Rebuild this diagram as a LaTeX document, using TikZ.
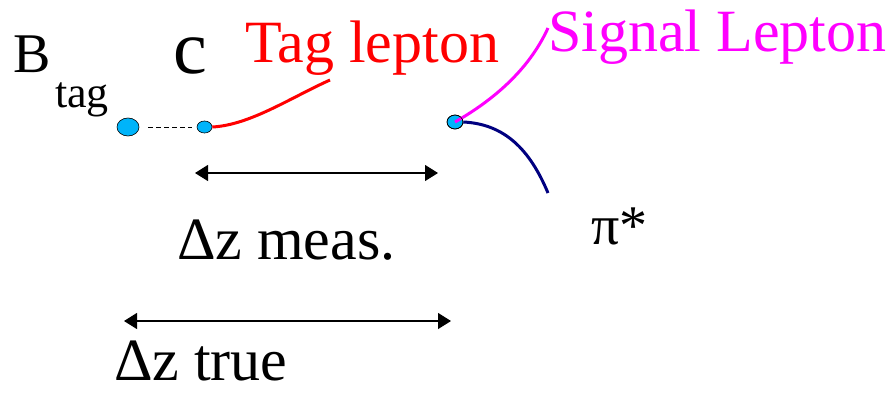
\documentclass[tikz,border=0pt]{standalone}
\usepackage{fontspec}
\newfontfamily\tnr{LiberationSerif}[Extension=.ttf,UprightFont=*-Regular]
\usetikzlibrary{arrows.meta,shapes.geometric}
\definecolor{vtx}{RGB}{0,180,250}
\definecolor{navytrk}{RGB}{0,0,128}
\definecolor{magtrk}{RGB}{255,0,255}
\definecolor{redtrk}{RGB}{255,0,0}
\begin{document}
\begin{tikzpicture}[x=1pt,y=-1pt,
  lbl/.style={anchor=base west,inner sep=0pt,outer sep=0pt},
  vertex/.style={ellipse,draw=black,line width=0.6pt,fill=vtx,inner sep=0pt},
  trk/.style={line width=3pt},
  dimarrow/.style={line width=1.2pt,{Triangle[length=13pt,width=16pt]}-{Triangle[length=13pt,width=16pt]}}]
\useasboundingbox (0,0) rectangle (895,392);
% labels
\node[lbl,font=\tnr\fontsize{56}{60}\selectfont] (B) at (13,72) {B};
\node[lbl,font=\tnr\fontsize{44}{50}\selectfont] (tag) at (55,107) {tag};
\node[lbl,font=\tnr\fontsize{76}{80}\selectfont] (c) at (173,73) {c};
\node[lbl,font=\tnr\fontsize{60}{66}\selectfont,text=redtrk] (taglep) at (245,62) {Tag lepton};
\node[lbl,font=\tnr\fontsize{60}{66}\selectfont,text=magtrk] (siglep) at (548,51) {Signal Lepton};
\node[lbl,font=\tnr\fontsize{56}{60}\selectfont] (pi) at (591,244) {π*};
\node[lbl,font=\tnr\fontsize{60}{66}\selectfont] (meas) at (177,259) {Δz meas.};
\node[lbl,font=\tnr\fontsize{60}{66}\selectfont] (true) at (114,380) {Δz true};
% vertices
\node[vertex,minimum width=22pt,minimum height=18pt] (v1) at (128,127) {};
\node[vertex,minimum width=15pt,minimum height=12pt] (v2) at (204.5,127) {};
\node[vertex,minimum width=16pt,minimum height=14pt] (v3) at (455,122) {};
% track end points
\coordinate (redEnd) at (330,80);
\coordinate (magEnd) at (548,28);
\coordinate (navEnd) at (548,193);
% dashed B flight
\draw[line width=0.8pt,dash pattern=on 5pt off 3pt,shorten <=9pt,shorten >=5pt] (v1.east) -- (v2.west);
% tracks
\draw[trk,redtrk] (v2.east) .. controls (250,125) and (290,98) .. (redEnd);
\draw[trk,magtrk] (v3.center) .. controls (490,102) and (528,72) .. (magEnd);
\draw[trk,navytrk] (v3.east) .. controls (505,124) and (530,150) .. (navEnd);
\node[vertex,minimum width=16pt,minimum height=14pt,fill=none] (v3outline) at (v3) {};
% dimension arrows
\coordinate (m1) at (195,173);
\coordinate (m2) at (438,173);
\coordinate (t1) at (124,321);
\coordinate (t2) at (451,321);
\draw[dimarrow] (m1) -- (m2);
\draw[dimarrow] (t1) -- (t2);
\end{tikzpicture}
\end{document}
